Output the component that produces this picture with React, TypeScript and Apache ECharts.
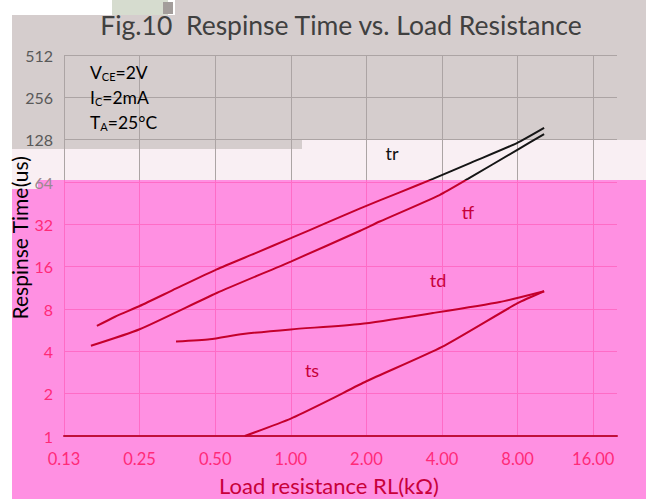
import React, { useEffect, useRef } from 'react';
import * as echarts from 'echarts';

// ---- data ----
const xTicks = [0.125, 0.25, 0.5, 1, 2, 4, 8, 16];
const yTicks = [1, 2, 4, 8, 16, 32, 64, 128, 256, 512];

const trR = [0.169, 0.1995, 0.25, 0.35, 0.507, 0.72, 1.0, 1.4, 1.89, 2.7, 3.68, 5.2, 7.95, 10.2];
const trT = [6.06, 7.05, 8.4, 11.2, 15.3, 19.9, 25.5, 33, 41.6, 53.8, 67.3, 87.5, 121, 155];

const tfR = [0.16, 0.25, 0.507, 1.0, 1.89, 2.26, 3.91, 5.07, 7.95, 10.2];
const tfT = [4.38, 5.74, 10.4, 17.4, 28.8, 33.5, 51.7, 67.3, 108, 140];

const tdR = [0.349, 0.476, 0.645, 1.0, 1.89, 3.68, 6.8, 10.2];
const tdT = [4.69, 4.87, 5.31, 5.73, 6.26, 7.49, 8.97, 10.7];

const tsR = [0.656, 1.0, 1.42, 2.0, 4.0, 8.0, 10.2];
const tsT = [1.0, 1.33, 1.8, 2.45, 4.3, 8.8, 10.7];

const RED = '#c4002c';
const BLACK = '#151515';
const GREY_BG = '#d5cdcd';
const LIGHT_BG = '#f9eff3';
const PINK_BG = '#ff90e2';
const PINK_GRID = '#ff6cc6';
const GREY_GRID = '#aca4a4';
const PINK_TEXT = '#ff2a78';
const GREY_TEXT = '#595959';
const FONT = 'Lato';

const pairs = (xs: number[], ys: number[]) => xs.map((x, i) => [x, ys[i]]);

export default function App() {
  const ref = useRef<HTMLDivElement>(null);
  useEffect(() => {
    if (!ref.current) return;
    const chart = echarts.init(ref.current, undefined, { renderer: 'svg' });
    const lineBase = {
      type: 'line',
      showSymbol: false,
      smooth: 0.2,
      silent: true,
    };
    const sub = (t: string) => ({
      text: t,
      align: 'left',
      verticalAlign: 'middle',
      rich: {
        m: { fontSize: 17.5, fontFamily: FONT, color: '#111', lineHeight: 20 },
        s: { fontSize: 11, fontFamily: FONT, color: '#111', lineHeight: 11, verticalAlign: 'bottom' },
      },
    });
    const option: any = {
      animation: false,
      backgroundColor: '#ffffff',
      textStyle: { fontFamily: FONT },
      grid: { left: 64, right: 29, top: 55, bottom: 63 },
      xAxis: {
        type: 'log',
        logBase: 2,
        min: 0.125,
        max: 19.9,
        axisLine: { show: true, lineStyle: { color: '#c0103a', width: 2 } },
        axisTick: { show: false },
        axisLabel: {
          formatter: (v: number) => v.toFixed(2),
          color: PINK_TEXT,
          fontSize: 16.5,
          fontFamily: FONT,
          margin: 14,
          showMaxLabel: false,
        },
        splitLine: { show: true, showMaxLine: false, lineStyle: { color: PINK_GRID, width: 1 } },
      },
      yAxis: {
        type: 'log',
        logBase: 2,
        min: 1,
        max: 512,
        axisLine: { show: false },
        axisTick: { show: false },
        axisLabel: {
          fontSize: 16,
          fontFamily: FONT,
          margin: 11,
          color: (v: any) => {
            const n = Number(v);
            if (n >= 128) return GREY_TEXT;
            if (n === 64) return '#9a8890';
            return PINK_TEXT;
          },
        },
        splitLine: {
          show: true,
          lineStyle: {
            color: yTicks.map((t) => (t >= 128 ? GREY_GRID : PINK_GRID)),
            width: 1,
          },
        },
      },
      visualMap: {
        show: false,
        type: 'piecewise',
        dimension: 1,
        seriesIndex: [2, 3],
        pieces: [
          { gte: 0.5, lt: 66, color: RED },
          { gte: 66, lte: 2000, color: BLACK },
        ],
        outOfRange: { color: RED },
      },
      series: [
        {
          ...lineBase,
          name: 'ts',
          data: pairs(tsR, tsT),
          itemStyle: { color: RED },
          lineStyle: { width: 2, color: RED },
          z: 3,
          markLine: {
            silent: true,
            symbol: ['none', 'none'],
            label: { show: false },
            lineStyle: { color: GREY_GRID, width: 1, type: 'solid' },
            data: xTicks.map((x) => [{ coord: [x, 66] }, { coord: [x, 512] }]),
            z: 1,
          },
        },
        {
          ...lineBase,
          name: 'td',
          data: pairs(tdR, tdT),
          itemStyle: { color: RED },
          lineStyle: { width: 2, color: RED },
          z: 3,
        },
        { ...lineBase, name: 'tr', data: pairs(trR, trT), lineStyle: { width: 2 }, z: 3 },
        { ...lineBase, name: 'tf', data: pairs(tfR, tfT), lineStyle: { width: 2 }, z: 3 },
      ],
      graphic: [
        { type: 'rect', z: -10, silent: true, shape: { x: 12, y: 15, width: 634, height: 125 }, style: { fill: GREY_BG } },
        { type: 'rect', z: -10, silent: true, shape: { x: 12, y: 140, width: 290, height: 9 }, style: { fill: GREY_BG } },
        { type: 'rect', z: -10, silent: true, shape: { x: 175, y: 0, width: 471, height: 15 }, style: { fill: GREY_BG } },
        { type: 'rect', z: -10, silent: true, shape: { x: 112, y: 0, width: 56, height: 15 }, style: { fill: '#d6dccf' } },
        { type: 'rect', z: -10, silent: true, shape: { x: 163, y: 2, width: 10, height: 12 }, style: { fill: '#a39d9b' } },
        { type: 'rect', z: -11, silent: true, shape: { x: 12, y: 140, width: 634, height: 40 }, style: { fill: LIGHT_BG } },
        { type: 'rect', z: -10, silent: true, shape: { x: 12, y: 180, width: 634, height: 319 }, style: { fill: PINK_BG } },
        { type: 'rect', z: -9, silent: true, shape: { x: 12, y: 180, width: 26, height: 9 }, style: { fill: LIGHT_BG } },
        {
          type: 'text', z: 50, silent: true, x: 341, y: 25,
          style: { text: 'Fig.10  Respinse Time vs. Load Resistance', fontSize: 26.5, fontFamily: FONT, fill: '#404040', align: 'center', verticalAlign: 'middle' },
        },
        {
          type: 'text', z: 50, silent: true, x: 19, y: 238, rotation: Math.PI / 2,
          style: {
            text: '{a|Respinse Time}{b|(us)}',
            align: 'center',
            verticalAlign: 'middle',
            rich: {
              a: { fontSize: 21, fontFamily: FONT, color: '#d0103c' },
              b: { fontSize: 21, fontFamily: FONT, color: '#505050' },
            },
          },
        },
        {
          type: 'text', z: 50, silent: true, x: 329, y: 485,
          style: { text: 'Load resistance RL(k\u03A9)', fontSize: 22, fontFamily: FONT, fill: '#c8003a', align: 'center', verticalAlign: 'middle' },
        },
        { type: 'text', z: 50, silent: true, x: 90, y: 72, style: sub('{m|V}{s|CE}{m|=2V}') },
        { type: 'text', z: 50, silent: true, x: 90, y: 97, style: sub('{m|I}{s|C}{m|=2mA}') },
        { type: 'text', z: 50, silent: true, x: 90, y: 122, style: sub('{m|T}{s|A}{m|=25\u00B0C}') },
        { type: 'text', z: 50, silent: true, x: 392, y: 153, style: { text: 'tr', fontSize: 18, fontFamily: FONT, fill: '#111', align: 'center', verticalAlign: 'middle' } },
        { type: 'text', z: 50, silent: true, x: 468, y: 212, style: { text: 'tf', fontSize: 18, fontFamily: FONT, fill: '#c8003a', align: 'center', verticalAlign: 'middle' } },
        { type: 'text', z: 50, silent: true, x: 438, y: 280, style: { text: 'td', fontSize: 18, fontFamily: FONT, fill: '#c8003a', align: 'center', verticalAlign: 'middle' } },
        { type: 'text', z: 50, silent: true, x: 312, y: 370, style: { text: 'ts', fontSize: 18, fontFamily: FONT, fill: '#c8003a', align: 'center', verticalAlign: 'middle' } },
      ],
    };
    chart.setOption(option);
    return () => chart.dispose();
  }, []);
  return <div ref={ref} style={{ position: 'fixed', left: 0, top: 0, width: 646, height: 499 }} />;
}
